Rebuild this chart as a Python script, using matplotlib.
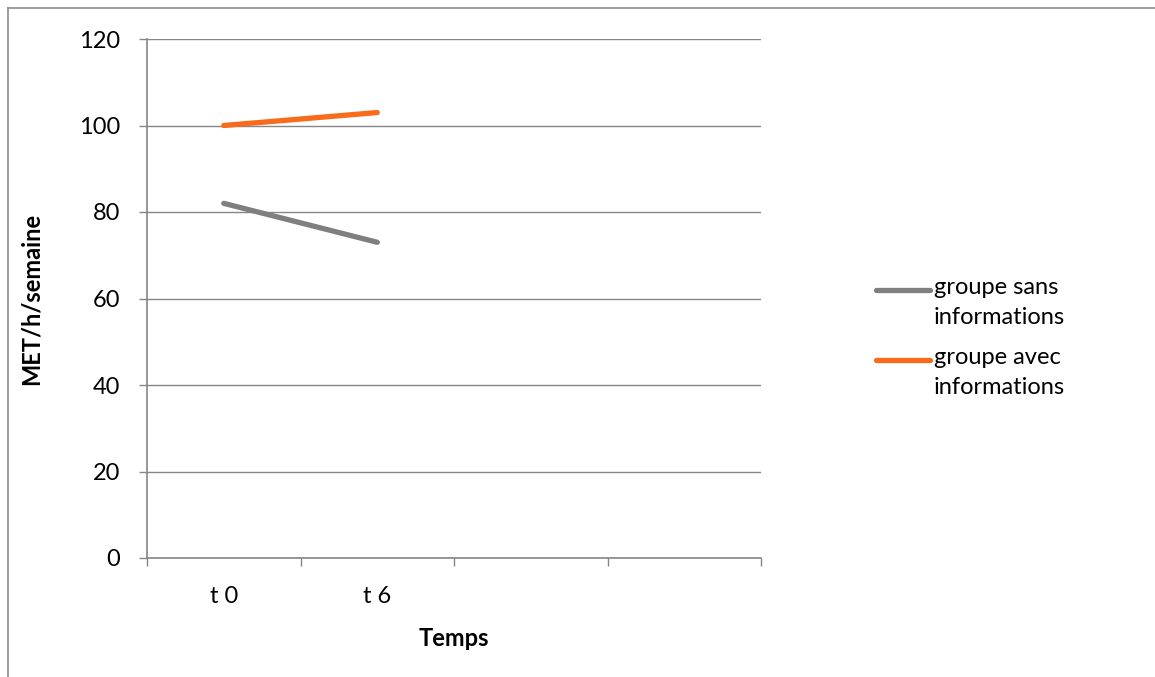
import matplotlib
matplotlib.use("Agg")
import matplotlib.pyplot as plt
from matplotlib.lines import Line2D

# ── data ──────────────────────────────────────────────────────────────────────
categories = ["t 0", "t 6", "", ""]
sans_info = [82, 73]
avec_info = [100, 103]
series_names = ["groupe sans\ninformations", "groupe avec\ninformations"]
y_ticks = [0, 20, 40, 60, 80, 100, 120]

GRID = "#868686"
GREY = "#7f7f7f"
ORANGE = "#f96a1b"
FS = 17

plt.rcParams["font.family"] = ["Lato", "DejaVu Sans"]

W, H = 1155, 677
fig = plt.figure(figsize=(W / 100, H / 100), dpi=100)
ax = fig.add_axes([147 / W, 1 - 558 / H, (761 - 147) / W, (558 - 39) / H])

xs = list(range(len(sans_info)))
ax.plot(xs, sans_info, color=GREY, linewidth=3.8, solid_capstyle="round")
ax.plot(xs, avec_info, color=ORANGE, linewidth=3.8, solid_capstyle="round")

ax.set_xlim(-0.5, len(categories) - 0.5)
ax.set_ylim(0, 120)
ax.set_yticks(y_ticks)
ax.yaxis.grid(True, color=GRID, linewidth=1.0)
ax.set_axisbelow(True)

# category boundaries as major ticks, labels at the centres
ax.set_xticks([i - 0.5 for i in range(len(categories) + 1)])
ax.set_xticklabels([])
ax.set_xticks(range(len(categories)), minor=True)
ax.set_xticklabels(categories, minor=True, fontsize=FS)
ax.tick_params(axis="x", which="major", length=5.8, width=1, color=GRID, direction="out")
ax.tick_params(axis="x", which="minor", length=0, pad=20)
ax.tick_params(axis="y", length=5.8, width=1, color=GRID, direction="out",
               labelsize=FS, pad=13.5)

for s in ["top", "right"]:
    ax.spines[s].set_visible(False)
for s in ["left", "bottom"]:
    ax.spines[s].set_color(GRID)
    ax.spines[s].set_linewidth(1.2)

ax.set_ylabel("MET/h/semaine", fontsize=FS, fontweight="bold")
ax.yaxis.set_label_coords(-(147 - 43) / 614, 0.5)
ax.set_xlabel("Temps", fontsize=FS, fontweight="bold")
ax.xaxis.set_label_coords(0.5, -(627 - 558) / 519)

# legend: handle aligned with the first line of each label
for name, color, y in zip(series_names, [GREY, ORANGE], [290, 360]):
    fig.add_artist(Line2D([876 / W, 930 / W], [1 - y / H, 1 - y / H],
                          transform=fig.transFigure, color=color,
                          linewidth=3.8, solid_capstyle="round"))
    fig.text(934 / W, 1 - (y - 13) / H, name, fontsize=FS, ha="left", va="top",
             linespacing=1.55)

# outer chart frame (left and top edge visible)
fig.add_artist(Line2D([8 / W, 8 / W], [0, 1 - 8 / H],
                      transform=fig.transFigure, color="#8c8c8c", linewidth=1.2))
fig.add_artist(Line2D([8 / W, 1], [1 - 8 / H, 1 - 8 / H],
                      transform=fig.transFigure, color="#8c8c8c", linewidth=1.2))

fig.savefig("out.png", dpi=100)
